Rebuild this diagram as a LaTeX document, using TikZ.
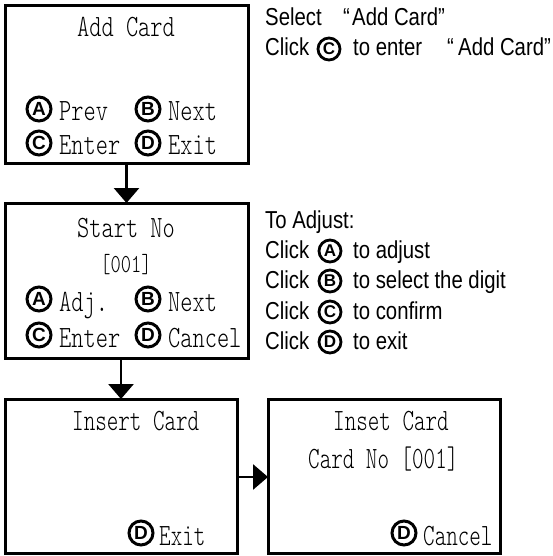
\documentclass[tikz,border=0pt]{standalone}
\usepackage{fontspec}
\usetikzlibrary{arrows.meta}
% condensed light mono for the LCD screens, narrowed sans for the notes
\newfontfamily\scrfont{lmmonolt10-regular.otf}[FakeStretch=0.75]
\newfontfamily\narrowscr{lmmonolt10-regular.otf}[FakeStretch=0.71]
\newfontfamily\notefont{Liberation Sans}[FakeStretch=0.83]
\newfontfamily\keyfont{Liberation Sans}
\newcommand\scrsize{\fontsize{31}{32}\selectfont}
\newcommand\smallscr{\fontsize{26}{27}\selectfont}
\tikzset{
  screen/.style={draw, line width=3pt, inner sep=0pt, outer sep=0pt},
  lcd/.style={font=\scrfont\scrsize, inner sep=0pt},
  lcdl/.style={lcd, anchor=base west},
  lcdc/.style={lcd, anchor=base},
  lcdn/.style={lcdl, font=\narrowscr\scrsize},
  key/.style={circle, draw, line width=3pt, minimum size=24pt, inner sep=0pt,
    font=\keyfont\bfseries\fontsize{19}{19}\selectfont},
  notekey/.style={key, line width=2.8pt, minimum size=22pt, font=\keyfont\bfseries\fontsize{17}{17}\selectfont},
  note/.style={font=\notefont\fontsize{24.5}{25}\selectfont, inner sep=0pt, anchor=base west},
  flow/.style={line width=2.8pt, -{Triangle[width=25pt,length=15pt]}},
}
\begin{document}
\begin{tikzpicture}[x=1pt,y=-1pt]
\useasboundingbox (0,0) rectangle (552,556);

% screens
\node[screen, minimum width=243pt, minimum height=158pt] (add)   at (126.5,85)  {};
\node[screen, minimum width=243pt, minimum height=155pt] (start) at (126.5,280.5) {};
\node[screen, minimum width=232pt, minimum height=154pt] (ins)   at (121,476)  {};
\node[screen, minimum width=232pt, minimum height=154pt] (insno) at (384,476)  {};

% screen 1: Add Card
\node[lcdc] (t1) at (126,37) {Add Card};
\node[key] (a1) at (39,109) {A};  \node[lcdl] (l1a) at (59,121) {Prev};
\node[key] (b1) at (148,109) {B}; \node[lcdl] (l1b) at (168,121) {Next};
\node[key] (c1) at (39,143) {C};  \node[lcdl] (l1c) at (59,155) {Enter};
\node[key] (d1) at (148,143) {D}; \node[lcdl] (l1d) at (168,155) {Exit};

% screen 2: Start No
\node[lcdc] (t2) at (126,237) {Start No};
\node[lcdc, font=\scrfont\smallscr] (n2) at (126,272) {[001]};
\node[key] (a2) at (39,299) {A};  \node[lcdl] (l2a) at (59,311) {Adj.};
\node[key] (b2) at (148,299) {B}; \node[lcdl] (l2b) at (168,311) {Next};
\node[key] (c2) at (39,335) {C};  \node[lcdl] (l2c) at (59,347) {Enter};
\node[key] (d2) at (148,335) {D}; \node[lcdl] (l2d) at (168,347) {Cancel};

% screen 3: Insert Card
\node[lcdn] (t3) at (72,430) {Insert Card};
\node[key] (d3) at (141,533) {D}; \node[lcdn] (l3d) at (159,545) {Exit};

% screen 4: Inset Card with number
\node[lcdn] (t4) at (333,430) {Inset Card};
\node[lcdn] (n4) at (308,468) {Card No [001]};
\node[key] (d4) at (404,533) {D}; \node[lcdn] (l4d) at (423,545) {Cancel};

% flow arrows
\draw[flow] (add.south) -- (start.north);
\draw[flow] (start.south -| ins.north) -- (ins.north);
\draw[flow] (ins.east |- 0,477) -- (insno.west |- 0,477);

% notes for Add Card
\node[note] (s1) at (265,26) {Select};
\node[note] (s1q) at (343,26) {“};
\node[note] (s1t) at (352,26) {Add Card”};
\node[note] (s2) at (265,56) {Click};
\node[notekey] (s2k) at (329,49) {C};
\node[note] (s2t) at (353,56) {to enter};
\node[note] (s2q) at (447,56) {“};
\node[note] (s2u) at (458,56) {Add Card”};

% notes for Start No
\node[note] (j0) at (265,228) {To Adjust:};
\node[note] (j1) at (265,258) {Click};
\node[notekey] (j1k) at (330,251) {A};
\node[note] (j1t) at (353,258) {to adjust};
\node[note] (j2) at (265,288) {Click};
\node[notekey] (j2k) at (330,281) {B};
\node[note] (j2t) at (353,288) {to select the digit};
\node[note] (j3) at (265,319) {Click};
\node[notekey] (j3k) at (330,312) {C};
\node[note] (j3t) at (353,319) {to confirm};
\node[note] (j4) at (265,349) {Click};
\node[notekey] (j4k) at (330,342) {D};
\node[note] (j4t) at (353,349) {to exit};
\end{tikzpicture}
\end{document}
